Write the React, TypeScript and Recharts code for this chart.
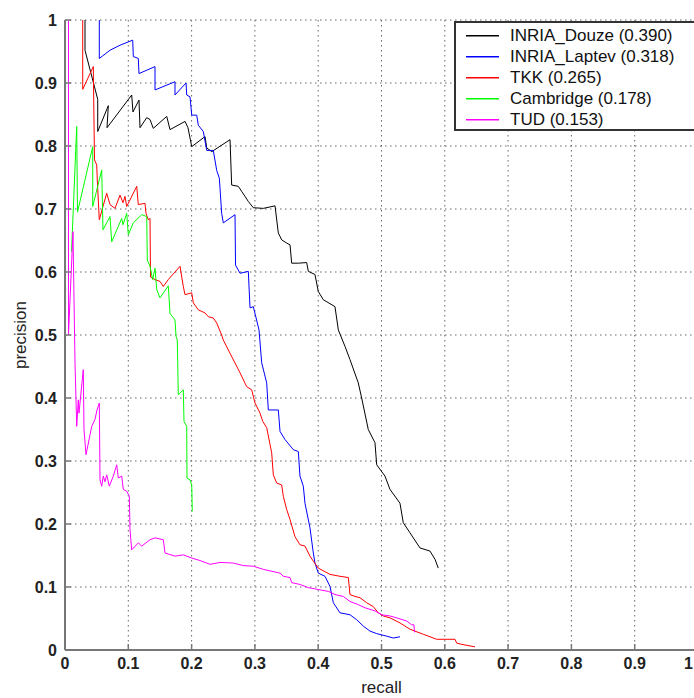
import { CartesianGrid, Label, Legend, Line, LineChart, XAxis, YAxis } from 'recharts'

type Pt = [number, number]

// [recall, precision]
const douze: Pt[] = [
  [0.0316, 1.0], [0.0316, 0.952], [0.0517, 0.874], [0.0517, 0.823], [0.0684, 0.864], [0.0664, 0.829],
  [0.1054, 0.881], [0.1074, 0.854], [0.1169, 0.873], [0.1185, 0.829], [0.1291, 0.845], [0.1343, 0.842],
  [0.1395, 0.828], [0.1607, 0.847], [0.1659, 0.826], [0.1896, 0.839], [0.1943, 0.829], [0.2002, 0.799],
  [0.2212, 0.815], [0.2239, 0.797], [0.2318, 0.791], [0.2607, 0.81], [0.2633, 0.738], [0.2738, 0.736],
  [0.2791, 0.728], [0.2844, 0.72], [0.2896, 0.712], [0.2975, 0.702], [0.3133, 0.701], [0.3318, 0.705],
  [0.337, 0.662], [0.3423, 0.651], [0.3502, 0.646], [0.3555, 0.643], [0.3581, 0.614], [0.3686, 0.614],
  [0.3818, 0.615], [0.3844, 0.601], [0.3949, 0.596], [0.4002, 0.569], [0.4081, 0.556], [0.4265, 0.545],
  [0.4318, 0.508], [0.4423, 0.482], [0.4502, 0.461], [0.4633, 0.424], [0.4687, 0.4], [0.4791, 0.35],
  [0.4897, 0.329], [0.4924, 0.294], [0.5055, 0.276], [0.5134, 0.255], [0.5292, 0.233], [0.5344, 0.202],
  [0.545, 0.186], [0.5608, 0.162], [0.5766, 0.157], [0.5845, 0.144], [0.5897, 0.13],
]

const laptev: Pt[] = [
  [0.0542, 1.0], [0.0542, 0.939], [0.0711, 0.952], [0.0869, 0.96], [0.107, 0.968], [0.1079, 0.942],
  [0.1158, 0.939], [0.1169, 0.915], [0.1422, 0.926], [0.1422, 0.889], [0.1738, 0.902], [0.1738, 0.881],
  [0.1912, 0.9], [0.1923, 0.881], [0.1975, 0.878], [0.2002, 0.849], [0.2081, 0.849], [0.2106, 0.833],
  [0.2185, 0.823], [0.2239, 0.793], [0.2343, 0.793], [0.2397, 0.761], [0.2438, 0.749], [0.2449, 0.733],
  [0.2475, 0.693], [0.2501, 0.678], [0.2686, 0.691], [0.2694, 0.611], [0.2765, 0.598], [0.2896, 0.601],
  [0.2923, 0.543], [0.2975, 0.545], [0.3065, 0.508], [0.3107, 0.456], [0.3186, 0.424], [0.3212, 0.381],
  [0.337, 0.381], [0.3397, 0.347], [0.3476, 0.334], [0.3607, 0.318], [0.3686, 0.315], [0.3712, 0.276],
  [0.3765, 0.26], [0.3791, 0.233], [0.387, 0.194], [0.3923, 0.154], [0.3949, 0.138], [0.4002, 0.122],
  [0.4107, 0.117], [0.4186, 0.101], [0.4239, 0.075], [0.4344, 0.059], [0.4502, 0.056], [0.4608, 0.048],
  [0.4712, 0.038], [0.4818, 0.03], [0.4924, 0.026], [0.5082, 0.022], [0.5186, 0.019], [0.5292, 0.021],
]

const tkk: Pt[] = [
  [0.028, 1.0], [0.028, 0.89], [0.0447, 0.926], [0.0466, 0.778], [0.0501, 0.77], [0.051, 0.746],
  [0.0542, 0.683], [0.0659, 0.725], [0.0711, 0.707], [0.079, 0.701], [0.0869, 0.722], [0.0916, 0.71],
  [0.0948, 0.72], [0.0975, 0.704], [0.1133, 0.736], [0.1158, 0.707], [0.1264, 0.709], [0.128, 0.693],
  [0.1316, 0.683], [0.1343, 0.685], [0.1351, 0.592], [0.1422, 0.588], [0.1501, 0.585], [0.1553, 0.577],
  [0.1632, 0.588], [0.1817, 0.609], [0.1869, 0.577], [0.1896, 0.564], [0.2002, 0.567], [0.2027, 0.551],
  [0.2106, 0.54], [0.2212, 0.535], [0.2264, 0.529], [0.2343, 0.527], [0.2397, 0.519], [0.2475, 0.5],
  [0.2501, 0.492], [0.2607, 0.471], [0.2765, 0.44], [0.287, 0.418], [0.2949, 0.413], [0.3002, 0.392],
  [0.3081, 0.376], [0.3123, 0.363], [0.3186, 0.353], [0.3265, 0.313], [0.3291, 0.278], [0.3344, 0.265],
  [0.3423, 0.262], [0.3449, 0.244], [0.3502, 0.223], [0.3555, 0.207], [0.3633, 0.18], [0.3712, 0.167],
  [0.3791, 0.165], [0.387, 0.149], [0.3923, 0.141], [0.4002, 0.13], [0.4186, 0.12], [0.4344, 0.117],
  [0.4476, 0.115], [0.4502, 0.088], [0.4581, 0.085], [0.466, 0.083], [0.4766, 0.075], [0.487, 0.069],
  [0.4949, 0.059], [0.5028, 0.054], [0.5134, 0.051], [0.5292, 0.043], [0.545, 0.033], [0.566, 0.025],
  [0.5872, 0.017], [0.6161, 0.017], [0.6188, 0.011], [0.6267, 0.009], [0.6477, 0.005],
]

const cambridge: Pt[] = [
  [0.0103, 0.632], [0.0185, 0.831], [0.0197, 0.695], [0.0438, 0.799], [0.0438, 0.704], [0.058, 0.762],
  [0.06, 0.667], [0.0711, 0.688], [0.0738, 0.648], [0.0896, 0.685], [0.0916, 0.675], [0.0975, 0.693],
  [0.1, 0.659], [0.1079, 0.678], [0.1212, 0.691], [0.1291, 0.688], [0.13, 0.619], [0.1343, 0.609],
  [0.1385, 0.588], [0.1422, 0.606], [0.1449, 0.572], [0.1501, 0.559], [0.1632, 0.578], [0.1659, 0.534],
  [0.1738, 0.524], [0.1754, 0.498], [0.1774, 0.492], [0.179, 0.405], [0.1869, 0.413], [0.188, 0.363],
  [0.1923, 0.355], [0.1927, 0.273], [0.1975, 0.27], [0.2002, 0.262], [0.2011, 0.22],
]

const tud: Pt[] = [
  [0.0055, 1.0], [0.0055, 0.5], [0.0126, 0.664], [0.0158, 0.456], [0.0185, 0.355], [0.021, 0.397],
  [0.0221, 0.376], [0.0289, 0.445], [0.03, 0.35], [0.0332, 0.31], [0.0422, 0.355], [0.0474, 0.366],
  [0.0506, 0.381], [0.0542, 0.392], [0.0553, 0.27], [0.058, 0.26], [0.0605, 0.276], [0.0632, 0.267],
  [0.0659, 0.278], [0.07, 0.26], [0.0763, 0.276], [0.0817, 0.294], [0.0842, 0.273], [0.0896, 0.276],
  [0.0921, 0.255], [0.0975, 0.252], [0.1016, 0.244], [0.1027, 0.191], [0.1054, 0.159], [0.1158, 0.17],
  [0.1212, 0.165], [0.1343, 0.175], [0.1422, 0.178], [0.1553, 0.175], [0.158, 0.154], [0.1738, 0.149],
  [0.1869, 0.151], [0.2002, 0.146], [0.2133, 0.142], [0.2291, 0.136], [0.2449, 0.139], [0.2659, 0.138],
  [0.2817, 0.134], [0.2975, 0.133], [0.3133, 0.128], [0.3397, 0.122], [0.3449, 0.117], [0.3555, 0.115],
  [0.3581, 0.107], [0.3712, 0.104], [0.3844, 0.099], [0.4002, 0.096], [0.416, 0.093], [0.4265, 0.088],
  [0.4397, 0.085], [0.4502, 0.077], [0.4633, 0.072], [0.4739, 0.067], [0.4897, 0.062], [0.5003, 0.056],
  [0.5134, 0.054], [0.524, 0.051], [0.5398, 0.046], [0.5477, 0.04], [0.5513, 0.04], [0.5521, 0.028],
]

const seriesNames = ['INRIA_Douze', 'INRIA_Laptev', 'TKK', 'Cambridge', 'TUD']
const seriesAP = [0.39, 0.318, 0.265, 0.178, 0.153]
const seriesColors = ['#000000', '#0000ff', '#ff0000', '#00ff00', '#ff00ff']
const seriesPoints = [douze, laptev, tkk, cambridge, tud]
const seriesLabels = seriesNames.map((n, i) => `${n} (${seriesAP[i].toFixed(3)})`)

const xTicks = [0, 0.1, 0.2, 0.3, 0.4, 0.5, 0.6, 0.7, 0.8, 0.9, 1]
const yTicks = [0, 0.1, 0.2, 0.3, 0.4, 0.5, 0.6, 0.7, 0.8, 0.9, 1]

const PLOT_LEFT = 65
const PLOT_BOTTOM = 650
const VIEW_WIDTH = 694
const FONT = '"Liberation Sans", Arial, Helvetica, sans-serif'
const AXIS_COLOR = '#777'

function XTick({ x, y, payload }: any) {
  // the last label sits on the page edge; pull it in so it stays readable
  const atEdge = x + 5 > VIEW_WIDTH
  return (
    <g>
      <line x1={x} x2={x} y1={PLOT_BOTTOM} y2={PLOT_BOTTOM - 6} stroke={AXIS_COLOR} strokeWidth={1.5} />
      <text
        x={atEdge ? VIEW_WIDTH - 1 : x}
        y={y}
        dy="0.71em"
        textAnchor={atEdge ? 'end' : 'middle'}
        fontFamily={FONT}
        fontSize={16}
        fontWeight="bold"
        fill="#222"
      >
        {String(payload.value)}
      </text>
    </g>
  )
}

function YTick({ x, y, payload }: any) {
  return (
    <g>
      <line x1={PLOT_LEFT} x2={PLOT_LEFT + 6} y1={y} y2={y} stroke={AXIS_COLOR} strokeWidth={1.5} />
      <text x={x} y={y} dy="0.36em" textAnchor="end" fontFamily={FONT} fontSize={16} fontWeight="bold" fill="#222">
        {String(payload.value)}
      </text>
    </g>
  )
}

function PrecisionLabel({ viewBox }: any) {
  const cx = viewBox.x + 20
  const cy = viewBox.y + viewBox.height / 2
  return (
    <text
      x={cx}
      y={cy}
      transform={`rotate(-90, ${cx}, ${cy})`}
      textAnchor="middle"
      dominantBaseline="central"
      fontFamily={FONT}
      fontSize={17}
      fill="#222"
    >
      precision
    </text>
  )
}

function LegendBox() {
  return (
    <div
      style={{
        border: '2px solid #333',
        background: '#fff',
        width: 260,
        height: 110,
        boxSizing: 'border-box',
        paddingTop: 2,
        fontFamily: FONT,
      }}
    >
      {seriesLabels.map((label, i) => (
        <div key={label} style={{ display: 'flex', alignItems: 'center', height: 21 }}>
          <svg width={54} height={21} style={{ flex: 'none', display: 'block' }}>
            <rect x={10} y={10} width={33} height={1.5} fill={seriesColors[i]} />
          </svg>
          <span style={{ fontSize: 17, color: '#111', lineHeight: '21px', whiteSpace: 'nowrap' }}>{label}</span>
        </div>
      ))}
    </div>
  )
}

export default function App() {
  return (
    <div
      style={{
        position: 'absolute',
        left: 0,
        top: 0,
        width: VIEW_WIDTH,
        height: 698,
        overflow: 'hidden',
        background: '#fff',
        fontFamily: FONT,
      }}
    >
      <LineChart width={700} height={698} margin={{ top: 20, right: 2, bottom: 0, left: 0 }}>
        <CartesianGrid stroke="#666" strokeDasharray="1.5 3.5" />
        <XAxis
          dataKey="recall"
          type="number"
          domain={[0, 1]}
          ticks={xTicks}
          allowDataOverflow
          height={48}
          tickSize={0}
          tickMargin={8}
          tick={<XTick />}
          axisLine={{ stroke: AXIS_COLOR, strokeWidth: 2 }}
        >
          <Label value="recall" position="insideBottom" offset={5} fontFamily={FONT} fontSize={17} fill="#222" />
        </XAxis>
        <YAxis
          dataKey="precision"
          type="number"
          domain={[0, 1]}
          ticks={yTicks}
          allowDataOverflow
          width={65}
          tickSize={0}
          tickMargin={8}
          tick={<YTick />}
          axisLine={{ stroke: AXIS_COLOR, strokeWidth: 2 }}
        >
          <Label content={<PrecisionLabel />} />
        </YAxis>
        <Legend
          content={<LegendBox />}
          layout="vertical"
          align="center"
          verticalAlign="middle"
          wrapperStyle={{ left: 454, top: 21, width: 260 }}
        />
        {seriesPoints.map((pts, i) => (
          <Line
            key={seriesNames[i]}
            name={seriesLabels[i]}
            data={pts.map(([recall, precision]) => ({ recall, precision }))}
            dataKey="precision"
            type="linear"
            stroke={seriesColors[i]}
            strokeWidth={1}
            dot={false}
            activeDot={false}
            isAnimationActive={false}
          />
        ))}
      </LineChart>
    </div>
  )
}
